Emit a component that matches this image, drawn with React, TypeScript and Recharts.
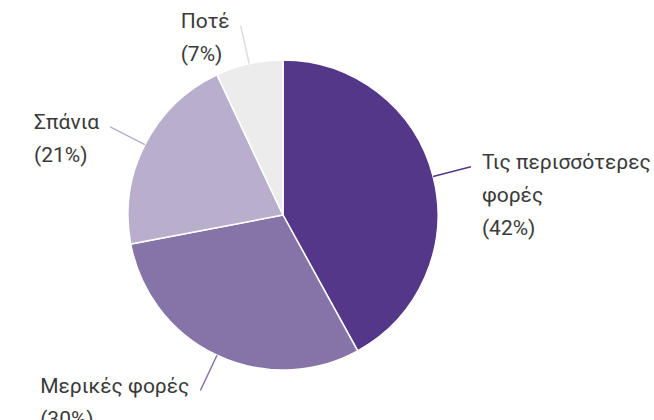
import React from 'react';
import { PieChart, Pie, Cell } from 'recharts';

// Survey answers (Greek), share of responses in %
const CATEGORIES = ['Τις περισσότερες φορές', 'Μερικές φορές', 'Σπάνια', 'Ποτέ'];
const PERCENTS = [42, 30, 21, 7];
const COLORS = ['#55378a', '#8674a8', '#b9aecb', '#ececec'];
const LINE_COLORS = ['#55378a', '#8674a8', '#b9aecb', '#dddddd'];

const data = CATEGORIES.map((name, i) => ({ name, value: PERCENTS[i] }));

const W = 654;
const H = 420;
const RADIAN = Math.PI / 180;
const FONT = 'Roboto';
const FONT_SIZE = 21;
const LINE_H = 33;

let ctx: CanvasRenderingContext2D | null = null;
const measure = (s: string) => {
  if (!ctx) ctx = document.createElement('canvas').getContext('2d');
  ctx!.font = `${FONT_SIZE}px "${FONT}"`;
  return ctx!.measureText(s).width;
};

// greedy word wrap so long labels break before the chart edge
const wrap = (text: string, maxW: number) => {
  const lines: string[] = [];
  let cur = '';
  for (const w of text.split(' ')) {
    const t = cur ? cur + ' ' + w : w;
    if (cur && measure(t) > maxW) {
      lines.push(cur);
      cur = w;
    } else cur = t;
  }
  lines.push(cur);
  return lines;
};

const renderLabel = (p: any) => {
  const { cx, cy, midAngle, outerRadius, index, name, value } = p;
  const cos = Math.cos(-midAngle * RADIAN);
  const sin = Math.sin(-midAngle * RADIAN);
  const sx = cx + outerRadius * cos;
  const sy = cy + outerRadius * sin;
  const ex = cx + (outerRadius + 39) * cos;
  const ey = cy + (outerRadius + 39) * sin;
  const right = cos >= 0;
  const gap = 11;
  const lines = right ? wrap(name, W - (ex + gap)) : wrap(name, ex - gap - 4);
  lines.push(`(${value}%)`);
  const blockW = Math.max(...lines.map(measure));
  const tx = right ? ex + gap : ex - gap - blockW;
  const ty = ey + 2;
  return (
    <g key={`lbl-${index}`}>
      <line x1={sx} y1={sy} x2={ex} y2={ey} stroke={LINE_COLORS[index]} strokeWidth={1.5} />
      <text x={tx} y={ty} fill="#3a3a3a" fontFamily={FONT} fontSize={FONT_SIZE}>
        {lines.map((l, i) => (
          <tspan key={i} x={tx} dy={i === 0 ? 0 : LINE_H}>
            {l}
          </tspan>
        ))}
      </text>
    </g>
  );
};

export default function App() {
  return (
    <div style={{ width: W, height: H, background: '#fff' }}>
      <style>{'body{margin:0}'}</style>
      <PieChart width={W} height={H} margin={{ top: 0, right: 0, bottom: 0, left: 0 }}>
        <Pie
          data={data}
          dataKey="value"
          nameKey="name"
          cx={283}
          cy={215}
          outerRadius={155}
          startAngle={90}
          endAngle={-270}
          stroke="#fff"
          strokeWidth={1.5}
          label={renderLabel}
          labelLine={false}
          isAnimationActive={false}
        >
          {data.map((d, i) => (
            <Cell key={d.name} fill={COLORS[i]} />
          ))}
        </Pie>
      </PieChart>
    </div>
  );
}
